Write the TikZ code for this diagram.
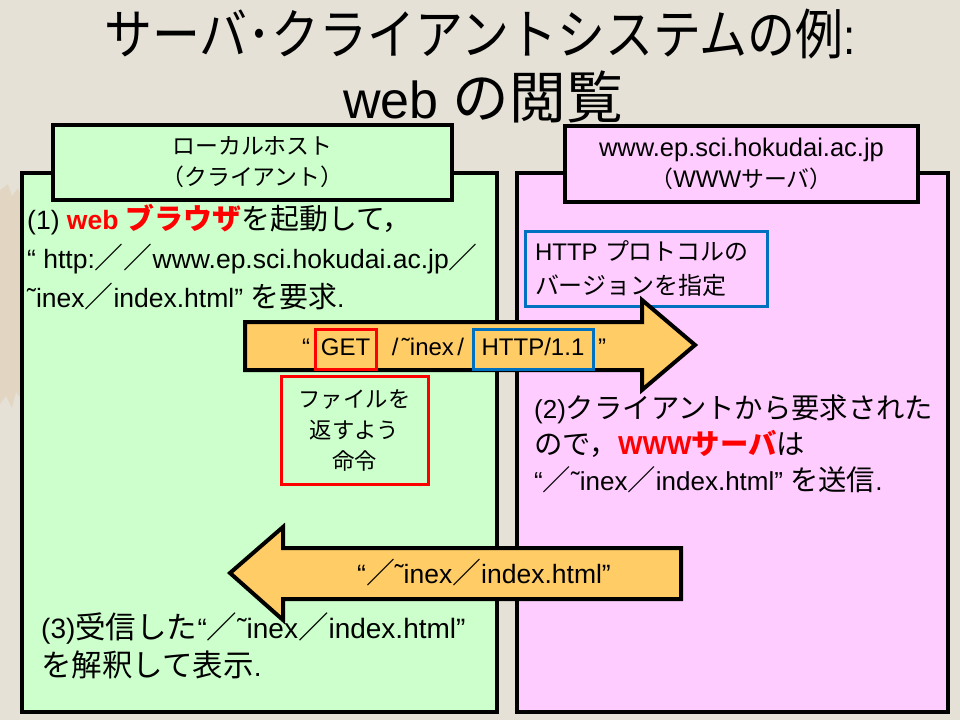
\documentclass[tikz,border=0pt]{standalone}
\usepackage{fontspec}
\setmainfont{Liberation Sans}
\newfontfamily\jp{Noto Sans CJK JP}[Scale=1.09]
\XeTeXinterchartokenstate=1
\newXeTeXintercharclass\cjkclass
\makeatletter
\count@="2E80
\loop \XeTeXcharclass\count@=\cjkclass \advance\count@ by 1 \ifnum\count@<"A000 \repeat
\count@="F900
\loop \XeTeXcharclass\count@=\cjkclass \advance\count@ by 1 \ifnum\count@<"FB00 \repeat
\count@="FF00
\loop \XeTeXcharclass\count@=\cjkclass \advance\count@ by 1 \ifnum\count@<"FFF0 \repeat
\makeatother
\XeTeXcharclass"201C=0
\XeTeXcharclass"201D=0
\XeTeXcharclass"02DC=0
\XeTeXinterchartoks 0 \cjkclass = {\jp}
\XeTeXinterchartoks 4095 \cjkclass = {\jp}
\XeTeXinterchartoks \cjkclass 0 = {\rmfamily}
\XeTeXinterchartoks \cjkclass 4095 = {\rmfamily}
\definecolor{bg}{RGB}{230,225,215}
\definecolor{tan}{RGB}{224,206,180}
\definecolor{gfill}{RGB}{204,255,204}
\definecolor{pfill}{RGB}{255,204,255}
\definecolor{afill}{RGB}{255,204,102}
\definecolor{myblue}{RGB}{0,112,192}
\definecolor{myred}{RGB}{255,0,0}
\newcommand{\tl}{\char"02DC}
\newcommand{\asl}{\kern3.5pt/\kern3.5pt}
\tikzset{
  bigbox/.style={draw=black, line width=4pt, rectangle, inner sep=0pt},
  labelbox/.style={draw=black, line width=3.5pt, rectangle, inner sep=0pt, align=center,
     font=\fontsize{21}{31}\selectfont},
  arrowshape/.style={draw=black, line width=4pt, fill=afill, line join=miter},
  bodytext/.style={inner sep=0pt, align=left},
  arrtext/.style={inner sep=0pt, font=\fontsize{24}{30}\selectfont, text height=17pt, text depth=5pt},
  markbox/.style={rectangle, line width=3pt, inner sep=0pt, minimum height=40pt,
     font=\fontsize{24}{30}\selectfont, text height=17pt, text depth=5pt},
}
\begin{document}
\begin{tikzpicture}[x=1pt, y=-1pt]
\useasboundingbox (0,0) rectangle (960,720);
\fill[bg] (0,0) rectangle (960,720);
% faint parchment stain on the left edge
\fill[tan, opacity=0.55] (0,190) -- (8,184) -- (12,196) -- (18,188) -- (22,200) -- (22,400) -- (16,392) -- (12,408) -- (6,396) -- (0,404) -- cycle;
% title
\node[inner sep=0pt, font=\fontsize{50}{63}\selectfont, xscale=0.88, transform shape] (t1) at (480,34) {サーバ･クライアントシステムの例:};
\node[inner sep=0pt, font=\fontsize{52}{63}\selectfont] (t2) at (483,97) {web の閲覧};
% big boxes
\node[bigbox, fill=gfill, minimum width=475pt, minimum height=539pt] (client) at (259.5,442.5) {};
\node[bigbox, fill=pfill, minimum width=431pt, minimum height=539pt] (server) at (732.5,442.5) {};
% label boxes
\node[labelbox, fill=gfill, minimum width=399pt, minimum height=75pt] (clab) at (252.5,162.5) {ローカルホスト\\（クライアント）};
\node[labelbox, fill=pfill, minimum width=353pt, minimum height=76pt] (slab) at (741.5,164) {{\fontsize{25.5}{31}\selectfont www.ep.sci.hokudai.ac.jp}\\（{\fontsize{24}{31}\selectfont WWW}サーバ）};
% client text (1)
\node[bodytext, anchor=west, font=\fontsize{26.5}{39}\selectfont] (step1) at (27,257) {(1) {\color{myred}\bfseries web ブラウザ}を起動して，\\“ http:／／www.ep.sci.hokudai.ac.jp／\\\tl inex／index.html” を要求.};
% HTTP version note
\node[draw=myblue, line width=3pt, fill=pfill, rectangle, minimum width=242pt, minimum height=75pt,
  inner xsep=10pt, inner ysep=0pt, text width=222pt, align=left, font=\fontsize{22}{34}\selectfont] (ver) at (646,268.5) {{\fontsize{24}{34}\selectfont HTTP} プロトコルの\\バージョンを指定};
% request arrow
\draw[arrowshape] (245,322) -- (642,322) -- (642,300) -- (695,345) -- (642,390) -- (642,370) -- (245,370) -- cycle;
\node[arrtext] (lq) at (306,349) {“};
\node[markbox, draw=myred, minimum width=61pt] (get) at (345.5,349) {GET};
\node[arrtext] (path) at (428,349) {\asl\tl inex\asl};
\node[markbox, draw=myblue, minimum width=120pt] (http) at (533,349) {HTTP/1.1};
\node[arrtext] (rq) at (602,349) {”};
% command note
\node[draw=myred, line width=3pt, rectangle, minimum width=147pt, minimum height=108pt, inner sep=0pt,
  align=center, font=\fontsize{20.5}{31}\selectfont] (cmd) at (354.5,430) {ファイルを\\返すよう\\命令};
% server text (2)
\node[bodytext, anchor=west, font=\fontsize{26}{36}\selectfont] (step2) at (534,444) {(2)クライアントから要求された\\ので，{\color{myred}\bfseries WWWサーバ}は\\“／\tl inex／index.html” を送信.};
% response arrow
\draw[arrowshape] (681,548) -- (283,548) -- (283,527) -- (230,573) -- (283,620) -- (283,599) -- (681,599) -- cycle;
\node[arrtext, font=\fontsize{26.5}{30}\selectfont] (resp) at (484,577) {“／\tl inex／index.html”};
% client text (3)
\node[bodytext, anchor=west, font=\fontsize{28}{38}\selectfont] (step3) at (41,646) {(3)受信した“／\tl inex／index.html”\\を解釈して表示.};
\end{tikzpicture}
\end{document}
